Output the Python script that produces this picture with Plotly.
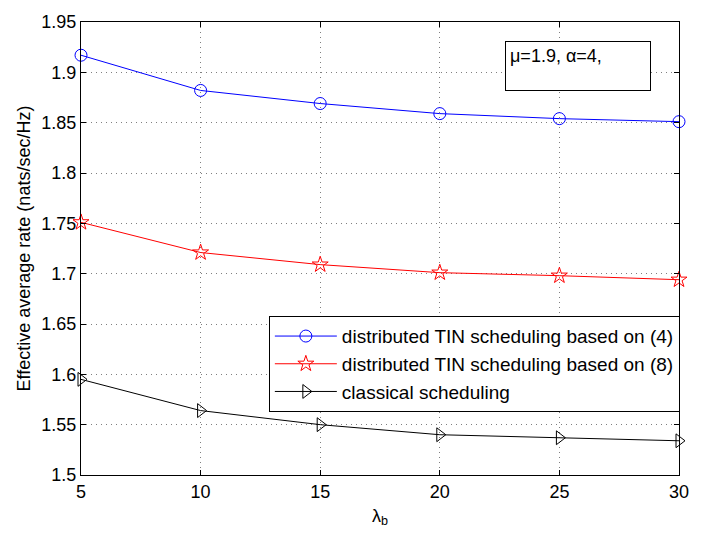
import plotly.graph_objects as go

lam_b = [5, 10, 15, 20, 25, 30]
tin_eq4 = [1.917, 1.882, 1.869, 1.859, 1.854, 1.851]
tin_eq8 = [1.751, 1.721, 1.709, 1.701, 1.698, 1.694]
classical = [1.595, 1.564, 1.550, 1.540, 1.537, 1.534]

names = ["distributed TIN scheduling based on (4)",
         "distributed TIN scheduling based on (8)",
         "classical scheduling"]

y_tickvals = [1.5, 1.55, 1.6, 1.65, 1.7, 1.75, 1.8, 1.85, 1.9, 1.95]
y_ticktext = ["1.5", "1.55", "1.6", "1.65", "1.7", "1.75", "1.8", "1.85", "1.9", "1.95"]
x_tickvals = [5, 10, 15, 20, 25, 30]

FONT = "Liberation Sans, Arial, Helvetica, sans-serif"

fig = go.Figure()
fig.add_trace(go.Scatter(x=lam_b, y=tin_eq4, name=names[0], mode="lines+markers",
                         cliponaxis=False,
                         line=dict(color="#0000ff", width=1),
                         marker=dict(symbol="circle-open", size=12, color="#0000ff",
                                     line=dict(width=1))))
fig.add_trace(go.Scatter(x=lam_b, y=tin_eq8, name=names[1], mode="lines+markers",
                         cliponaxis=False,
                         line=dict(color="#ff0000", width=1),
                         marker=dict(symbol="star-open", size=12, color="#ff0000",
                                     line=dict(width=1))))
fig.add_trace(go.Scatter(x=lam_b, y=classical, name=names[2], mode="lines+markers",
                         cliponaxis=False,
                         line=dict(color="#000000", width=1),
                         marker=dict(symbol="triangle-right-open", size=12, color="#000000",
                                     line=dict(width=1))))

axis_common = dict(showline=True, linecolor="black", linewidth=1, mirror="ticks",
                   ticks="inside", ticklen=5, tickcolor="black",
                   showgrid=True, gridcolor="rgba(0,0,0,0.5)", gridwidth=1,
                   griddash="1px,4px", zeroline=False,
                   tickfont=dict(family=FONT, size=18, color="black"))

fig.update_xaxes(range=[5, 30], tickvals=x_tickvals, **axis_common,
                 title=dict(text="λ<sub>b</sub>", font=dict(family=FONT, size=18, color="black"),
                            standoff=8))
fig.update_yaxes(range=[1.5, 1.95], tickvals=y_tickvals, ticktext=y_ticktext, **axis_common,
                 title=dict(text="Effective average rate (nats/sec/Hz)",
                            font=dict(family=FONT, size=18, color="black"), standoff=6))

fig.update_layout(
    width=701, height=534,
    margin=dict(l=81, r=12, t=14, b=55),
    paper_bgcolor="white", plot_bgcolor="white",
    font=dict(family=FONT, size=18, color="black"),
    showlegend=True,
    legend=dict(x=(272 - 81) / 608, y=(479 - 316) / 465, xanchor="left", yanchor="top",
                bgcolor="white", bordercolor="black", borderwidth=1,
                font=dict(family=FONT, size=19, color="black"),
                itemwidth=62, tracegroupgap=0),
    annotations=[dict(text="μ=1.9, α=4,", xref="paper", yref="paper",
                      x=(512 - 81) / 608, y=(479 - 34) / 465, xanchor="left", yanchor="top",
                      showarrow=False, align="left", valign="top",
                      width=136, height=40, borderpad=4,
                      bordercolor="black", borderwidth=1, bgcolor="white",
                      font=dict(family=FONT, size=18, color="black"))],
)

fig.write_html("out.html")
